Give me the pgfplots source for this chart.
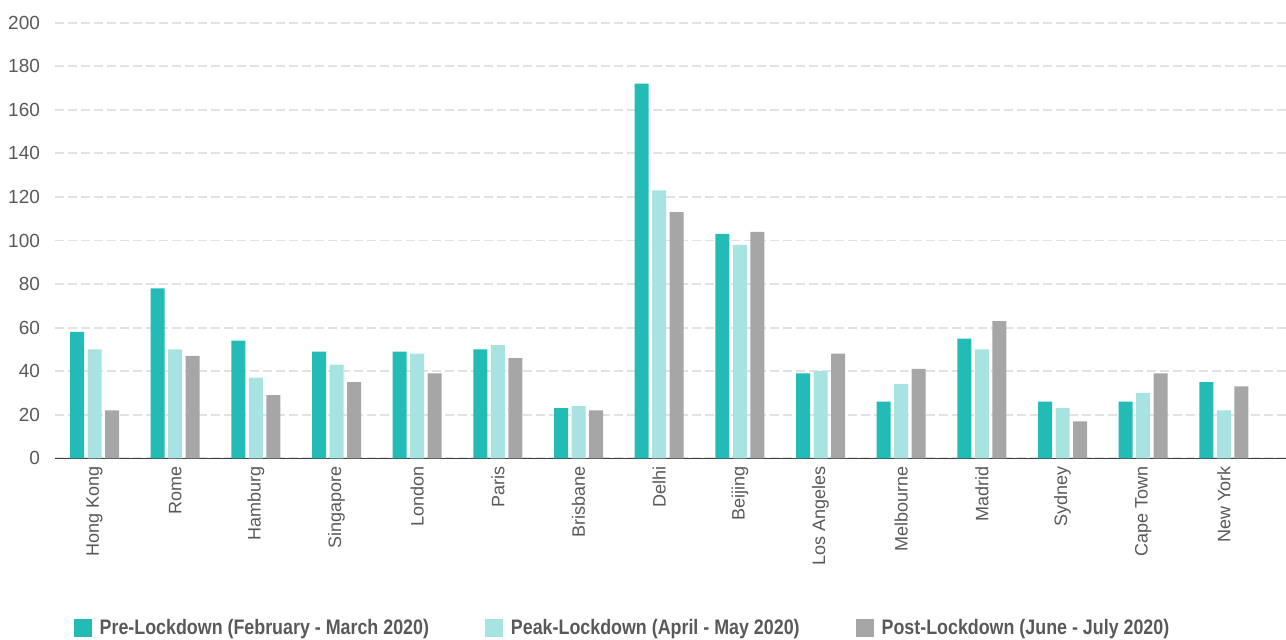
\documentclass[border=0pt]{standalone}
\usepackage{fontspec}
\setmainfont{Liberation Sans}
\newfontfamily\legfont[FakeStretch=0.85]{Liberation Sans}
\usepackage{pgfplots}
\pgfplotsset{compat=1.18}
\usepackage{pgfplotstable}

\definecolor{pre}{HTML}{22BBB5}
\definecolor{peak}{HTML}{A6E3E1}
\definecolor{post}{HTML}{A6A6A6}
\definecolor{txt}{HTML}{595959}
\definecolor{gridc}{HTML}{E2E2E2}

% city, pre, peak, post
\pgfplotstableread{
x pre peak post
0  58  50  22
1  78  50  47
2  54  37  29
3  49  43  35
4  49  48  39
5  50  52  46
6  23  24  22
7  172 123 113
8  103 98  104
9  39  40  48
10 26  34  41
11 55  50  63
12 26  23  17
13 26  30  39
14 35  22  33
}\datatable

\begin{document}
\begin{tikzpicture}
\begin{axis}[
  scale only axis,
  width=615.5pt,
  height=217.8pt,
  xmin=-0.49, xmax=14.77,
  ymin=0, ymax=200,
  ytick={0,20,...,200},
  xtick=data,
  xticklabels={Hong Kong,Rome,Hamburg,Singapore,London,Paris,Brisbane,Delhi,Beijing,Los Angeles,Melbourne,Madrid,Sydney,Cape Town,New York},
  axis x line*=bottom,
  axis y line*=left,
  y axis line style={draw=none},
  x axis line style={draw=black!75, line width=0.6pt},
  major tick length=0pt,
  ymajorgrids,
  grid style={gridc, line width=0.9pt, dash pattern=on 4.5pt off 2pt},
  /pgf/number format/assume math mode=true,
  tick label style={font=\fontsize{9.5}{11}\selectfont, text=txt},
  yticklabel style={anchor=east, xshift=-4pt},
  xticklabel style={rotate=90, anchor=east, xshift=-0.5pt, font=\fontsize{9}{11}\selectfont},
  ybar=1.75pt,
  bar width=7pt,
  legend columns=3,
  legend style={at={(0.4618,-0.3896)}, anchor=center, draw=none, fill=none,
    font=\legfont\bfseries\fontsize{10.5}{12}\selectfont, text=txt,
    /tikz/every odd column/.append style={column sep=2pt},
    /tikz/every even column/.append style={column sep=26pt}},
  legend image code/.code={\fill[#1] (0pt,-4.5pt) rectangle (9pt,4.5pt);},
]
\addplot[fill=pre, draw=none] table[x=x, y=pre] {\datatable};
\addlegendentry{Pre-Lockdown (February - March 2020)}
\addplot[fill=peak, draw=none] table[x=x, y=peak] {\datatable};
\addlegendentry{Peak-Lockdown (April - May 2020)}
\addplot[fill=post, draw=none] table[x=x, y=post] {\datatable};
\addlegendentry{Post-Lockdown (June - July 2020)}
\end{axis}
\pgfresetboundingbox
\path (current axis.south west) ++(-27.5pt,-90.85pt) rectangle (current axis.north east);
\path (current axis.north east) ++(0pt,11.35pt);
\end{tikzpicture}
\end{document}
